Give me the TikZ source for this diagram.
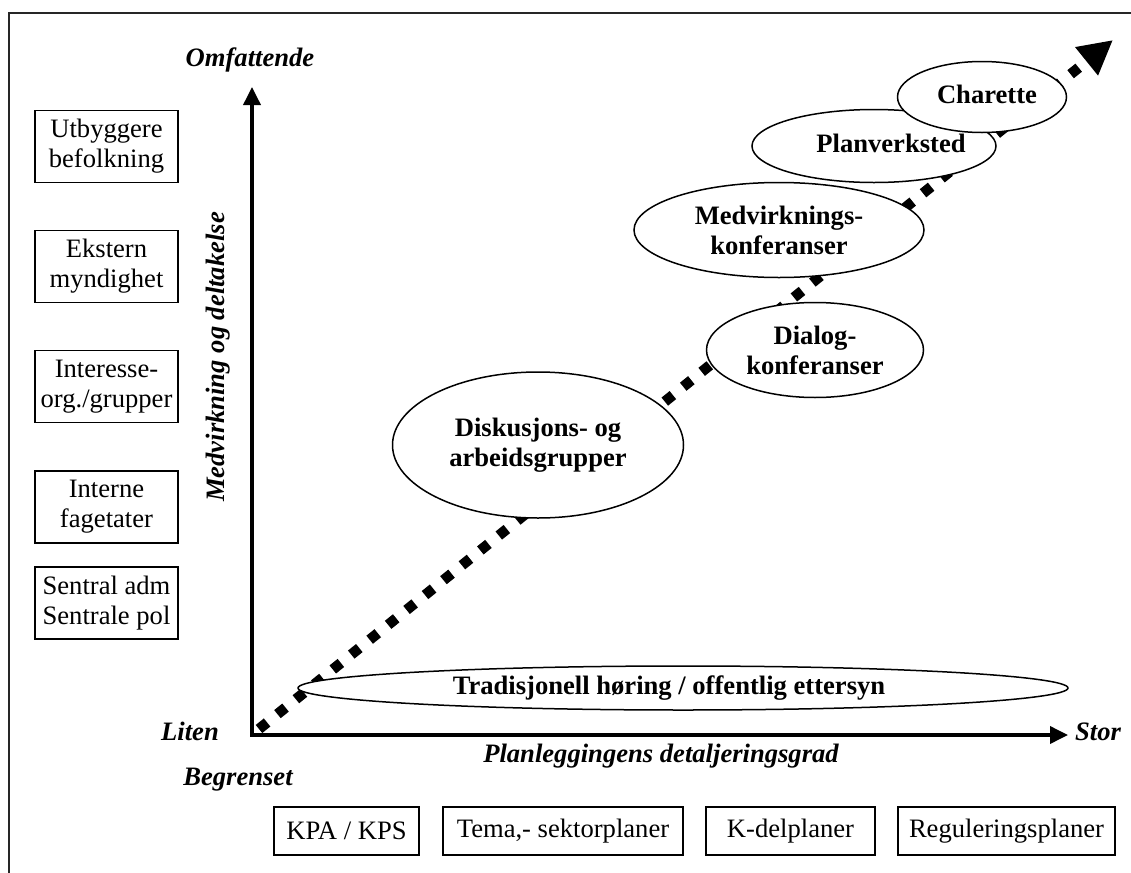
\documentclass[tikz,border=0pt]{standalone}
\usepackage{fontspec}
\setmainfont{Liberation Serif}
\usetikzlibrary{arrows.meta,shapes.geometric}
\begin{document}
\begin{tikzpicture}[x=0.5pt,y=-0.5pt,
  every node/.style={font=\fontsize{13.3pt}{15pt}\selectfont, inner sep=0pt},
  frame/.style={line width=0.8pt, draw=black!85},
  sidebox/.style={draw, line width=0.7pt, minimum width=71.5pt, minimum height=36pt, align=center},
  planbox/.style={draw, line width=0.7pt, minimum height=24pt, align=center},
  axis/.style={line width=1.8pt, line join=miter},
  axlabel/.style={font=\fontsize{13.3pt}{15pt}\selectfont\bfseries\itshape},
  ell/.style={ellipse, draw, fill=white, line width=0.75pt, inner sep=0pt},
  etext/.style={font=\fontsize{13.3pt}{15pt}\selectfont\bfseries, align=center},
  dotline/.style={line width=5.2pt, dash pattern=on 5.2pt off 6.65pt, line cap=butt,
     -{Triangle[length=17pt,width=17pt]}}
]
\useasboundingbox (0,0) rectangle (1131,873);
\draw[frame] (9,873) -- (9,13) -- (1131,13);

% coordinates
\coordinate (origin) at (252,735);
\coordinate (ytip) at (252,87);
\coordinate (xtip) at (1068,735);
\coordinate (dstart) at (259,729);
\coordinate (dtip) at (1113,40);

% dotted diagonal
\draw[dotline] (dstart) -- (dtip);

% axes
\draw[axis, {Triangle[length=9pt,width=8.5pt]}-{Triangle[length=9pt,width=8.5pt]}] (ytip) -- (origin) -- (xtip);

% axis labels
\node[axlabel] (omf) at (250,60) {Omfattende};
\node[axlabel] (liten) at (190,731) {Liten};
\node[axlabel] (stor) at (1098,732) {Stor};
\node[axlabel] (begr) at (238,780) {Begrenset};
\node[axlabel] (xlab) at (661,756) {Planleggingens detaljeringsgrad};
\node[axlabel, rotate=90] (ylab) at (218,357) {Medvirkning og deltakelse};

% left boxes
\node[sidebox] (utb) at (106.5,146.5) {Utbyggere\\befolkning};
\node[sidebox] (eks) at (106.5,266.5) {Ekstern\\myndighet};
\node[sidebox] (int) at (106.5,386.5) {Interesse-\\org./grupper};
\node[sidebox] (fag) at (106.5,507) {Interne\\fagetater};
\node[sidebox] (sen) at (106.5,603) {Sentral adm\\Sentrale pol};

% bottom boxes
\node[planbox, minimum width=72.5pt] (kpa) at (346.5,831) {KPA / KPS};
\node[planbox, minimum width=120pt] (tema) at (563,831) {Tema,- sektorplaner};
\node[planbox, minimum width=84.5pt] (kdel) at (790.5,831) {K-delplaner};
\node[planbox, minimum width=108.5pt] (reg) at (1006.5,831) {Reguleringsplaner};

% ellipses
\node[ell, minimum width=385pt, minimum height=22pt] (trad) at (683,688) {};
\node[etext] (tradt) at (669,688) {Tradisjonell høring / offentlig ettersyn};
\node[ell, minimum width=145.5pt, minimum height=73pt, etext] (disk) at (538,445) {Diskusjons- og\\arbeidsgrupper};
\node[ell, minimum width=108.5pt, minimum height=47.5pt, etext] (dial) at (815,350) {Dialog-\\konferanser};
\node[ell, minimum width=145pt, minimum height=47.5pt, etext] (medv) at (779,230) {Medvirknings-\\konferanser};
\node[ell, minimum width=122pt, minimum height=36.5pt] (plan) at (874,146) {};
\node[etext] (plant) at (891,143) {Planverksted};
\node[ell, minimum width=84.5pt, minimum height=35.5pt] (char) at (982,97) {};
\node[etext] (chart) at (987,94) {Charette};
\end{tikzpicture}
\end{document}
